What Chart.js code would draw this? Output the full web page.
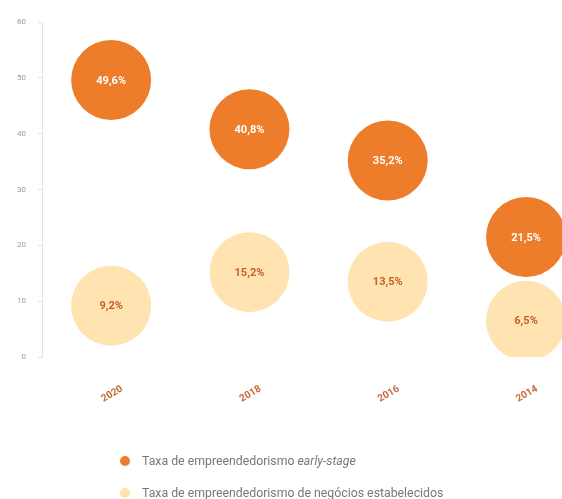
<!DOCTYPE html>
<html>
<head>
<meta charset="utf-8">
<script src="https://cdn.jsdelivr.net/npm/chart.js@4/dist/chart.umd.min.js"></script>
<style>
  html, body { margin: 0; padding: 0; background: #fff; }
  body { width: 562px; height: 499px; overflow: hidden; position: relative; font-family: Roboto, "Noto Sans", sans-serif; }
  #wrap { position: absolute; left: 0; top: 0; width: 562px; height: 499px; }
  .leg { position: absolute; left: 120px; font-size: 12.3px; color: #777; white-space: nowrap; line-height: 16px; }
  .leg .dot { display: inline-block; width: 10px; height: 10px; border-radius: 50%; margin-right: 12px; vertical-align: -1px; }
</style>
</head>
<body>
<div id="wrap"><canvas id="c"></canvas></div>
<div class="leg" style="top:453px"><span class="dot" style="background:#EE7D2B"></span>Taxa de empreendedorismo <i>early-stage</i></div>
<div class="leg" style="top:485px"><span class="dot" style="background:#FFE3B0"></span>Taxa de empreendedorismo de negócios estabelecidos</div>
<script>
const years = ['2020', '2018', '2016', '2014'];
const earlyStage = [49.6, 40.8, 35.2, 21.5];
const established = [9.2, 15.2, 13.5, 6.5];
const yTicks = [0, 10, 20, 30, 40, 50, 60];

const darkColor = '#EE7D2B';
const lightColor = '#FFE3B0';

function fmt(v) { return v.toFixed(1).replace('.', ',') + '%'; }

const labelsPlugin = {
  id: 'labelsPlugin',
  afterDatasetsDraw(chart) {
    const ctx = chart.ctx;
    ctx.save();
    ctx.font = 'bold 11px Roboto, "Noto Sans", sans-serif';
    ctx.textAlign = 'center';
    ctx.textBaseline = 'middle';
    chart.data.datasets.forEach((ds, di) => {
      const meta = chart.getDatasetMeta(di);
      meta.data.forEach((el, i) => {
        ctx.fillStyle = di === 0 ? '#FFFFFF' : '#C4602C';
        ctx.fillText(fmt(ds.data[i].y), el.x, el.y + 1);
      });
    });
    // x-axis year labels (rotated)
    const xs = chart.scales.x;
    ctx.font = 'bold 10px Roboto, "Noto Sans", sans-serif';
    ctx.fillStyle = '#C8693A';
    years.forEach((yr, i) => {
      const px = xs.getPixelForValue(i);
      ctx.save();
      ctx.translate(px + 1, 394);
      ctx.rotate(-30 * Math.PI / 180);
      ctx.fillText(yr, 0, 0);
      ctx.restore();
    });
    ctx.restore();
  }
};

new Chart(document.getElementById('c'), {
  type: 'bubble',
  data: {
    datasets: [
      {
        label: 'Taxa de empreendedorismo early-stage',
        data: earlyStage.map((v, i) => ({ x: i, y: v, r: 40 })),
        backgroundColor: darkColor,
        borderWidth: 0,
        hoverBorderWidth: 0,
        clip: 0
      },
      {
        label: 'Taxa de empreendedorismo de negócios estabelecidos',
        data: established.map((v, i) => ({ x: i, y: v, r: 40 })),
        backgroundColor: lightColor,
        borderWidth: 0,
        hoverBorderWidth: 0,
        clip: 0
      }
    ]
  },
  options: {
    responsive: true,
    maintainAspectRatio: false,
    animation: false,
    events: [],
    layout: { autoPadding: false, padding: { top: 22, bottom: 142, left: 0, right: 0 } },
    plugins: { legend: { display: false }, tooltip: { enabled: false } },
    scales: {
      x: {
        type: 'linear',
        display: false,
        min: -0.5,
        max: 3.26
      },
      y: {
        min: 0,
        max: 60,
        afterBuildTicks: (s) => { s.ticks = yTicks.map(v => ({ value: v })); },
        afterFit: (s) => { s.width = 42; },
        ticks: {
          color: '#999',
          font: { size: 8, family: 'Roboto, "Noto Sans", sans-serif' },
          padding: 12
        },
        grid: { drawOnChartArea: false, drawTicks: true, tickLength: 4, color: '#E2E2E2' },
        border: { display: true, color: '#E2E2E2' }
      }
    }
  },
  plugins: [labelsPlugin]
});
</script>
</body>
</html>
